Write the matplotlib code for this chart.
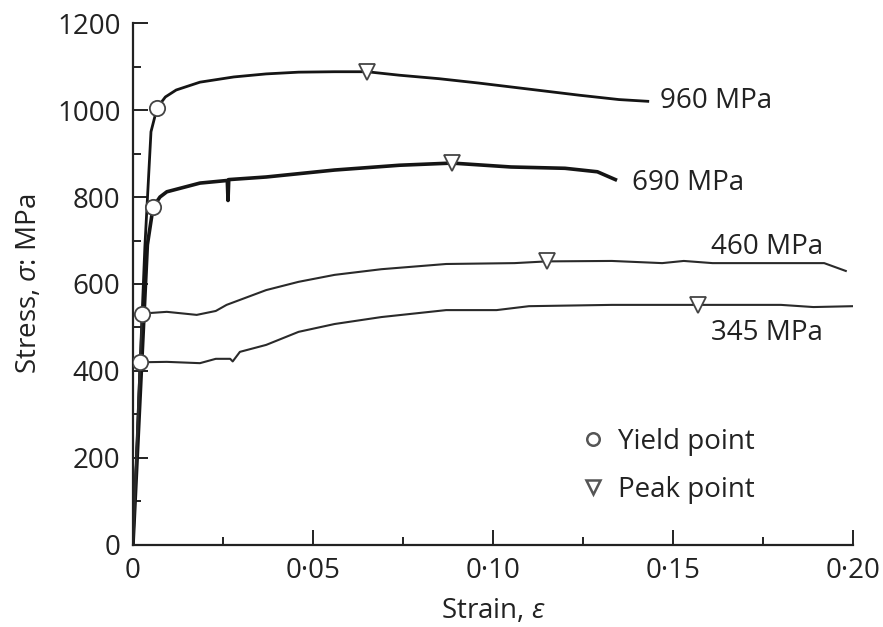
import matplotlib
matplotlib.use("Agg")
import matplotlib.pyplot as plt
from matplotlib.lines import Line2D
from matplotlib.ticker import MultipleLocator, FixedLocator, FixedFormatter

plt.rcParams['font.family'] = ['Open Sans', 'DejaVu Sans']
plt.rcParams['mathtext.fontset'] = 'custom'
plt.rcParams['mathtext.it'] = 'Open Sans:italic'
plt.rcParams['mathtext.rm'] = 'Open Sans'

# curves (strain, stress in MPa)
strain_960 = [0, 0.0020, 0.0033, 0.0050, 0.0067, 0.0090, 0.012, 0.0186, 0.028, 0.037,
              0.046, 0.056, 0.065, 0.074, 0.085, 0.096, 0.110, 0.124, 0.135, 0.143]
stress_960 = [0, 420, 685, 950, 1005, 1030, 1046, 1064, 1076, 1083,
              1087, 1088, 1088, 1080, 1072, 1062, 1048, 1034, 1024, 1020]

strain_690 = [0, 0.0025, 0.0040, 0.0056, 0.0075, 0.0094, 0.0186, 0.0262, 0.0264, 0.0266,
              0.037, 0.056, 0.074, 0.0886, 0.105, 0.120, 0.129, 0.134]
stress_690 = [0, 430, 690, 777, 800, 812, 832, 838, 792, 840,
              846, 862, 873, 878, 869, 866, 858, 840]

strain_460 = [0, 0.0025, 0.0094, 0.0177, 0.023, 0.026, 0.037, 0.046, 0.056, 0.069,
              0.087, 0.106, 0.115, 0.133, 0.147, 0.153, 0.161, 0.192, 0.198]
stress_460 = [0, 532, 536, 529, 538, 552, 586, 605, 621, 634,
              646, 648, 652, 653, 648, 653, 648, 648, 630]

strain_345 = [0, 0.0019, 0.0094, 0.0186, 0.023, 0.0270, 0.0277, 0.0297, 0.037, 0.046,
              0.056, 0.069, 0.087, 0.101, 0.110, 0.133, 0.157, 0.180, 0.189, 0.200]
stress_345 = [0, 420, 421, 418, 428, 428, 422, 444, 460, 490,
              508, 524, 540, 540, 549, 552, 552, 552, 547, 549]

yield_strain = [0.0067, 0.0056, 0.0025, 0.0019]
yield_stress = [1005, 777, 532, 420]
peak_strain = [0.065, 0.0886, 0.115, 0.157]
peak_stress = [1088, 878, 652, 552]

grades = ['960 MPa', '690 MPa', '460 MPa', '345 MPa']
label_x = [0.1465, 0.1385, 0.1605, 0.1605]
label_y = [1021, 832, 685, 487]

fig = plt.figure(figsize=(8.83, 6.27), dpi=100)
ax = fig.add_axes([0.1506, 0.1308, 0.8154, 0.8325])

ax.plot(strain_960, stress_960, color='#151515', lw=2.0)
ax.plot(strain_690, stress_690, color='#151515', lw=2.6)
ax.plot(strain_460, stress_460, color='#2a2a2a', lw=1.5)
ax.plot(strain_345, stress_345, color='#2a2a2a', lw=1.5)

ax.plot(yield_strain, yield_stress, 'o', ms=11, mfc='white', mec='#444444', mew=1.3, zorder=5)
ax.plot(peak_strain, peak_stress, 'v', ms=12, mfc='white', mec='#444444', mew=1.3, zorder=5)

for g, lx, ly in zip(grades, label_x, label_y):
    ax.text(lx, ly, g, fontsize=20, color='#222222', va='center', ha='left')

ax.set_xlim(0, 0.20)
ax.set_ylim(0, 1200)
for s in ['top', 'right']:
    ax.spines[s].set_visible(False)
for s in ['left', 'bottom']:
    ax.spines[s].set_linewidth(1.6)
    ax.spines[s].set_color('#222222')

ax.xaxis.set_major_locator(FixedLocator([0, 0.05, 0.10, 0.15, 0.20]))
ax.xaxis.set_major_formatter(FixedFormatter(['0', '0·05', '0·10', '0·15', '0·20']))
ax.xaxis.set_minor_locator(MultipleLocator(0.025))
ax.yaxis.set_major_locator(MultipleLocator(200))
ax.yaxis.set_minor_locator(MultipleLocator(100))
ax.tick_params(which='both', direction='in', width=1.4, color='#222222',
               labelsize=20, labelcolor='#222222')
ax.tick_params(which='major', length=11, pad=9)
ax.tick_params(which='minor', length=6)

ax.set_xlabel('Strain, $\\mathit{\\varepsilon}$', fontsize=20, color='#222222', labelpad=8)
ax.set_ylabel('Stress, $\\mathit{\\sigma}$: MPa', fontsize=20, color='#222222', labelpad=10)

handles = [Line2D([], [], ls='none', marker='o', ms=9, mfc='white', mec='#555555', mew=1.8),
           Line2D([], [], ls='none', marker='v', ms=10, mfc='white', mec='#555555', mew=1.8)]
ax.legend(handles, ['Yield point', 'Peak point'], frameon=False, fontsize=20,
          loc='upper left', bbox_to_anchor=(0.575, 0.272), handletextpad=0.15,
          handlelength=1.5, labelspacing=0.72, labelcolor='#222222')

fig.savefig('out.png', dpi=100)
